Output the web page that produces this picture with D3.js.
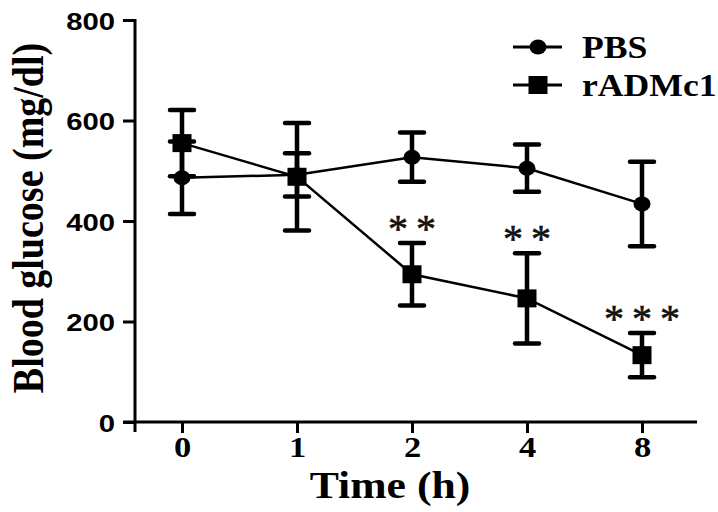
<!DOCTYPE html>
<html>
<head>
<meta charset="utf-8">
<script src="https://cdn.jsdelivr.net/npm/d3@7"></script>
<style>
  html, body { margin: 0; padding: 0; background: #fff; }
  svg { display: block; }
</style>
</head>
<body>
<svg id="chart" width="718" height="512"></svg>
<script>
// ---- data ----
const categories = ["0", "1", "2", "4", "8"];
const pbsMean = [486, 492, 527, 505, 434];
const pbsErr  = [72, 43, 49, 47, 84];
const radMean = [555, 488, 294, 246, 133];
const radErr  = [66, 107, 62, 90, 44];
const stars   = ["", "", "**", "**", "***"];
const yTicks  = [0, 200, 400, 600, 800];
const seriesNames = ["PBS", "rADMc1"];
const xTitle = "Time (h)";
const yTitle = "Blood glucose (mg/dl)";

// ---- layout ----
const svg = d3.select("#chart");
const SX = 1.15; // horizontal stretch of the original picture's text
const axisX = 135, axisY = 422, axisRight = 697;

const x = d3.scalePoint().domain(categories).range([182, 642]);
const y = d3.scaleLinear().domain([0, 800]).range([422, 20]);

// axes
const gy = svg.append("g").attr("transform", `translate(${axisX},0)`)
  .call(d3.axisLeft(y).tickValues(yTicks).tickSize(12).tickSizeOuter(0));
gy.select(".domain").remove();
gy.selectAll(".tick line").attr("stroke", "#000").attr("stroke-width", 3);
gy.selectAll(".tick text")
  .attr("x", null).attr("dy", null)
  .attr("transform", "translate(-20,1) scale(1.22,1)")
  .attr("dominant-baseline", "central")
  .attr("text-anchor", "end")
  .style("font-family", "'Liberation Sans', Arial, sans-serif")
  .style("font-weight", "bold")
  .style("font-size", "24px")
  .attr("fill", "#000");

svg.append("line").attr("x1", axisX).attr("x2", axisX)
  .attr("y1", y(800) - 1).attr("y2", axisY + 10)
  .attr("stroke", "#000").attr("stroke-width", 3);

const gx = svg.append("g").attr("transform", `translate(0,${axisY})`)
  .call(d3.axisBottom(x).tickSize(11).tickSizeOuter(0));
gx.select(".domain").remove();
gx.selectAll(".tick line").attr("stroke", "#000").attr("stroke-width", 3);
gx.selectAll(".tick text")
  .attr("y", null).attr("dy", null)
  .attr("transform", "translate(0,35) scale(" + SX + ",1)")
  .attr("text-anchor", "middle")
  .style("font-family", "'Liberation Serif', 'Times New Roman', serif")
  .style("font-weight", "bold")
  .style("font-size", "30px")
  .attr("fill", "#000");

svg.append("line").attr("x1", axisX - 12).attr("x2", axisRight)
  .attr("y1", axisY).attr("y2", axisY)
  .attr("stroke", "#000").attr("stroke-width", 3);

// titles
svg.append("text")
  .attr("transform", `translate(390,498) scale(${SX},1)`)
  .attr("text-anchor", "middle")
  .style("font-family", "'Liberation Serif', 'Times New Roman', serif")
  .style("font-weight", "bold")
  .style("font-size", "38px")
  .text(xTitle);

svg.append("text")
  .attr("transform", `translate(43,218) scale(${SX},1) rotate(-90)`)
  .attr("text-anchor", "middle")
  .style("font-family", "'Liberation Serif', 'Times New Roman', serif")
  .style("font-weight", "bold")
  .style("font-size", "38px")
  .text(yTitle);

// ---- series ----
const line = d3.line().x((d, i) => x(categories[i])).y(d => y(d));
const series = [
  { name: seriesNames[0], mean: pbsMean, err: pbsErr, shape: "circle" },
  { name: seriesNames[1], mean: radMean, err: radErr, shape: "square" }
];

series.forEach(s => {
  svg.append("path").datum(s.mean).attr("d", line)
    .attr("fill", "none").attr("stroke", "#000").attr("stroke-width", 2.5);
});

const capW = 12;
series.forEach(s => {
  const g = svg.append("g");
  s.mean.forEach((m, i) => {
    const cx = x(categories[i]);
    g.append("line").attr("x1", cx).attr("x2", cx)
      .attr("y1", y(m + s.err[i])).attr("y2", y(m - s.err[i]))
      .attr("stroke", "#000").attr("stroke-width", 4.5);
    [m + s.err[i], m - s.err[i]].forEach(v => {
      g.append("line").attr("x1", cx - capW).attr("x2", cx + capW)
        .attr("y1", y(v)).attr("y2", y(v))
        .attr("stroke", "#000").attr("stroke-width", 4.5).attr("stroke-linecap", "round");
    });
  });
});

function drawMarker(g, shape, cx, cy) {
  if (shape === "circle") {
    g.append("ellipse").attr("cx", cx).attr("cy", cy).attr("rx", 8.5).attr("ry", 7.5).attr("fill", "#000");
  } else {
    g.append("rect").attr("x", cx - 9.5).attr("y", cy - 9).attr("width", 19).attr("height", 18).attr("fill", "#000");
  }
}

series.forEach(s => {
  const g = svg.append("g");
  s.mean.forEach((m, i) => drawMarker(g, s.shape, x(categories[i]), y(m)));
});

// significance stars
stars.forEach((st, i) => {
  if (!st) return;
  const top = y(radMean[i] + radErr[i]);
  svg.append("text")
    .attr("x", x(categories[i]) + 4).attr("y", top - 1)
    .attr("text-anchor", "middle")
    .style("font-family", "'Liberation Serif', 'Times New Roman', serif")
    .style("font-size", "40px")
    .style("letter-spacing", "8px")
    .attr("fill", "#111")
    .attr("stroke", "#111").attr("stroke-width", 0.6)
    .text(st);
});

// ---- legend ----
const legend = svg.append("g");
series.forEach((s, i) => {
  const ly = 47 + i * 38;
  legend.append("line").attr("x1", 513).attr("x2", 562).attr("y1", ly).attr("y2", ly)
    .attr("stroke", "#000").attr("stroke-width", 3);
  drawMarker(legend, s.shape, 538, ly);
  legend.append("text")
    .attr("transform", `translate(582,${ly + 11}) scale(${SX},1)`)
    .style("font-family", "'Liberation Serif', 'Times New Roman', serif")
    .style("font-weight", "bold")
    .style("font-size", "31px")
    .text(s.name);
});
</script>
</body>
</html>
